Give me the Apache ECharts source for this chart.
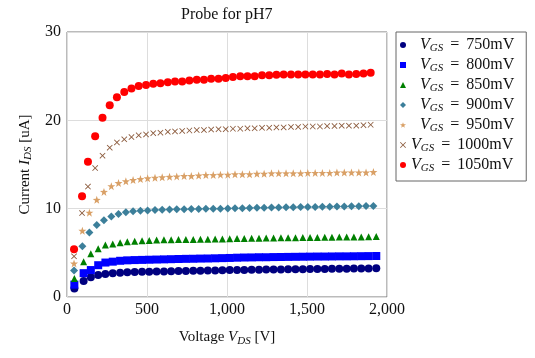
<!DOCTYPE html>
<html>
<head>
<meta charset="utf-8">
<script src="https://cdn.jsdelivr.net/npm/echarts@6/dist/echarts.min.js"></script>
<style>
    html, body { margin: 0; padding: 0; background: #fff; }
    #probeChart { width: 535px; height: 358px; }
</style>
</head>
<body>
<div id="probeChart"></div>
<script>
// drain voltage V_DS [V] -- the sweeps are not on exactly the same points
var voltFast = [44, 94, 131, 176, 222, 267, 312, 358, 403, 448, 494, 539, 584, 630, 675, 720, 765, 811, 856, 901, 947, 992, 1037, 1083, 1128, 1173, 1219, 1264, 1309, 1354, 1400, 1445, 1490, 1536, 1581, 1626, 1672, 1717, 1762, 1808, 1853, 1898];
var voltMid = [44, 96, 140, 186, 231, 277, 322, 368, 413, 459, 504, 550, 595, 641, 686, 732, 777, 823, 868, 914, 959, 1005, 1050, 1096, 1141, 1187, 1232, 1278, 1323, 1369, 1414, 1460, 1505, 1551, 1596, 1642, 1687, 1733, 1778, 1824, 1869, 1915];
var voltSlow = [46, 104, 149, 195, 240, 286, 332, 377, 423, 469, 514, 560, 606, 651, 697, 743, 789, 834, 880, 926, 971, 1017, 1063, 1108, 1154, 1200, 1245, 1291, 1337, 1382, 1428, 1474, 1519, 1565, 1611, 1656, 1702, 1748, 1793, 1839, 1885, 1933];

// drain current I_DS [uA]
var ids750 = [0.95, 1.8, 2.25, 2.5, 2.6, 2.68, 2.75, 2.8, 2.83, 2.85, 2.87, 2.89, 2.9, 2.92, 2.94, 2.95, 2.97, 2.98, 3.0, 3.01, 3.03, 3.05, 3.06, 3.07, 3.08, 3.09, 3.1, 3.11, 3.12, 3.13, 3.14, 3.15, 3.16, 3.17, 3.18, 3.19, 3.2, 3.21, 3.22, 3.23, 3.24, 3.25];
var ids800 = [1.4, 2.7, 3.05, 3.6, 3.9, 4.0, 4.1, 4.15, 4.18, 4.2, 4.22, 4.24, 4.26, 4.28, 4.3, 4.32, 4.33, 4.35, 4.36, 4.38, 4.4, 4.42, 4.45, 4.47, 4.48, 4.5, 4.5, 4.52, 4.53, 4.54, 4.55, 4.56, 4.57, 4.58, 4.58, 4.59, 4.6, 4.6, 4.61, 4.62, 4.63, 4.64];
var ids850 = [2.1, 4.0, 4.9, 5.45, 5.9, 6.0, 6.15, 6.25, 6.3, 6.37, 6.4, 6.45, 6.47, 6.48, 6.5, 6.5, 6.52, 6.53, 6.55, 6.56, 6.58, 6.6, 6.62, 6.63, 6.65, 6.66, 6.68, 6.69, 6.7, 6.71, 6.72, 6.73, 6.74, 6.75, 6.76, 6.77, 6.78, 6.79, 6.8, 6.8, 6.82, 6.85];
var ids900 = [3.0, 5.75, 7.3, 8.15, 8.7, 9.1, 9.4, 9.6, 9.7, 9.77, 9.8, 9.85, 9.88, 9.9, 9.92, 9.93, 9.95, 9.96, 9.98, 10.0, 10.0, 10.02, 10.04, 10.06, 10.08, 10.1, 10.1, 10.12, 10.14, 10.15, 10.16, 10.18, 10.2, 10.2, 10.22, 10.22, 10.24, 10.25, 10.26, 10.28, 10.3, 10.3];
var ids950 = [3.8, 7.5, 9.55, 11.0, 11.9, 12.55, 12.9, 13.1, 13.25, 13.35, 13.45, 13.5, 13.55, 13.6, 13.65, 13.7, 13.7, 13.75, 13.8, 13.8, 13.85, 13.85, 13.9, 13.9, 13.9, 13.95, 13.95, 14.0, 14.0, 14.0, 14.0, 14.0, 14.05, 14.05, 14.05, 14.05, 14.1, 14.1, 14.1, 14.1, 14.1, 14.15];
var ids1000 = [4.6, 9.5, 12.5, 14.6, 16.0, 16.9, 17.5, 17.85, 18.1, 18.3, 18.4, 18.55, 18.6, 18.7, 18.75, 18.8, 18.85, 18.9, 18.9, 18.95, 19.0, 19.0, 19.05, 19.05, 19.1, 19.1, 19.15, 19.15, 19.2, 19.2, 19.25, 19.25, 19.3, 19.3, 19.3, 19.35, 19.35, 19.4, 19.4, 19.4, 19.45, 19.5];
var ids1050 = [5.4, 11.4, 15.3, 18.2, 20.3, 21.7, 22.6, 23.2, 23.6, 23.9, 24.0, 24.15, 24.2, 24.3, 24.4, 24.4, 24.5, 24.6, 24.6, 24.7, 24.7, 24.8, 24.9, 25.0, 25.0, 25.0, 25.1, 25.1, 25.15, 25.2, 25.2, 25.2, 25.2, 25.2, 25.2, 25.25, 25.2, 25.3, 25.2, 25.25, 25.3, 25.4];

var gateLabels = ['750mV', '800mV', '850mV', '900mV', '950mV', '1000mV', '1050mV'];
var xTicks = [0, 500, 1000, 1500, 2000];
var yTicks = [0, 10, 20, 30];

var serif = '"Liberation Serif", "DejaVu Serif", serif';
var starPath = 'path://M0,-10 L2.35,-3.24 L9.51,-3.09 L3.8,1.24 L5.88,8.09 L0,4 L-5.88,8.09 L-3.8,1.24 L-9.51,-3.09 L-2.35,-3.24 Z';
var crossPath = 'path://M-5,-4 L-4,-5 L0,-1 L4,-5 L5,-4 L1,0 L5,4 L4,5 L0,1 L-4,5 L-5,4 L-1,0 Z';

function pairs(xs, ys) {
    return ys.map(function (y, i) { return [xs[i], y]; });
}

var subRich = {
    n: { fontFamily: serif, fontSize: 15, color: '#111' },
    i: { fontFamily: serif, fontSize: 15, fontStyle: 'italic', color: '#111' },
    s: { fontFamily: serif, fontSize: 11, fontStyle: 'italic', color: '#111', padding: [8, 0, 0, 0] }
};

var legendRich = {
    n: { fontFamily: serif, fontSize: 16, color: '#111' },
    i: { fontFamily: serif, fontSize: 16, fontStyle: 'italic', color: '#111' },
    s: { fontFamily: serif, fontSize: 11, fontStyle: 'italic', color: '#111', padding: [7, 0, 0, 0] },
    e: { fontFamily: serif, fontSize: 16, color: '#111', padding: [0, 7, 0, 7] },
    p: { width: 9 }
};

var sweeps = [
    { name: gateLabels[0], xs: voltSlow, ys: ids750, symbol: 'circle', size: 8, color: '#000080' },
    { name: gateLabels[1], xs: voltSlow, ys: ids800, symbol: 'rect', size: 8, color: '#0000ff' },
    { name: gateLabels[2], xs: voltSlow, ys: ids850, symbol: 'triangle', size: 7, color: '#008000' },
    { name: gateLabels[3], xs: voltMid, ys: ids900, symbol: 'diamond', size: 8, color: '#3c7f9a' },
    { name: gateLabels[4], xs: voltMid, ys: ids950, symbol: starPath, size: 8, color: '#d9a066' },
    { name: gateLabels[5], xs: voltFast, ys: ids1000, symbol: crossPath, size: 6, color: '#8b5a3c' },
    { name: gateLabels[6], xs: voltFast, ys: ids1050, symbol: 'circle', size: 8, color: '#ff0000' }
];

var chart = echarts.init(document.getElementById('probeChart'));

var option = {
    animation: false,
    title: {
        text: 'Probe for pH7',
        left: 176,
        top: 2,
        textStyle: { fontFamily: serif, fontSize: 16, fontWeight: 'normal', color: '#111' }
    },
    legend: {
        orient: 'vertical',
        left: 396,
        top: 32,
        padding: [5, 12, 7, 4],
        itemGap: 3,
        itemWidth: 6,
        itemHeight: 6,
        borderColor: '#666',
        borderWidth: 1,
        data: gateLabels,
        formatter: function (name) {
            return (name.length < 6 ? '{p|}' : '') + '{i|V}{s|GS}{e|=}{n|' + name + '}';
        },
        textStyle: { lineHeight: 16, rich: legendRich }
    },
    grid: {
        left: 67,
        right: 148,
        top: 32,
        bottom: 61,
        show: true,
        borderColor: '#777',
        borderWidth: 1
    },
    xAxis: {
        type: 'value',
        min: xTicks[0],
        max: xTicks[xTicks.length - 1],
        interval: 500,
        name: '{n|Voltage }{i|V}{s|DS}{n| [V]}',
        nameLocation: 'middle',
        nameGap: 31,
        nameTextStyle: { rich: subRich },
        axisLine: { show: false },
        axisTick: { show: false },
        axisLabel: {
            fontFamily: serif, fontSize: 16, color: '#111', margin: 5,
            formatter: function (v) { return v.toLocaleString('en-US'); }
        },
        splitLine: { lineStyle: { color: '#ddd' } }
    },
    yAxis: {
        type: 'value',
        min: yTicks[0],
        max: yTicks[yTicks.length - 1],
        interval: 10,
        name: '{n|Current }{i|I}{s|DS}{n| [uA]}',
        nameLocation: 'middle',
        nameGap: 30,
        nameTextStyle: { rich: subRich },
        axisLine: { show: false },
        axisTick: { show: false },
        axisLabel: { fontFamily: serif, fontSize: 16, color: '#111', margin: 6 },
        splitLine: { lineStyle: { color: '#ddd' } }
    },
    series: sweeps.map(function (s) {
        return {
            name: s.name,
            type: 'scatter',
            symbol: s.symbol,
            symbolSize: s.size,
            itemStyle: { color: s.color, opacity: 1 },
            data: pairs(s.xs, s.ys)
        };
    })
};

chart.setOption(option);
window.addEventListener('resize', function () {
    chart.resize();
});
</script>
</body>
</html>
